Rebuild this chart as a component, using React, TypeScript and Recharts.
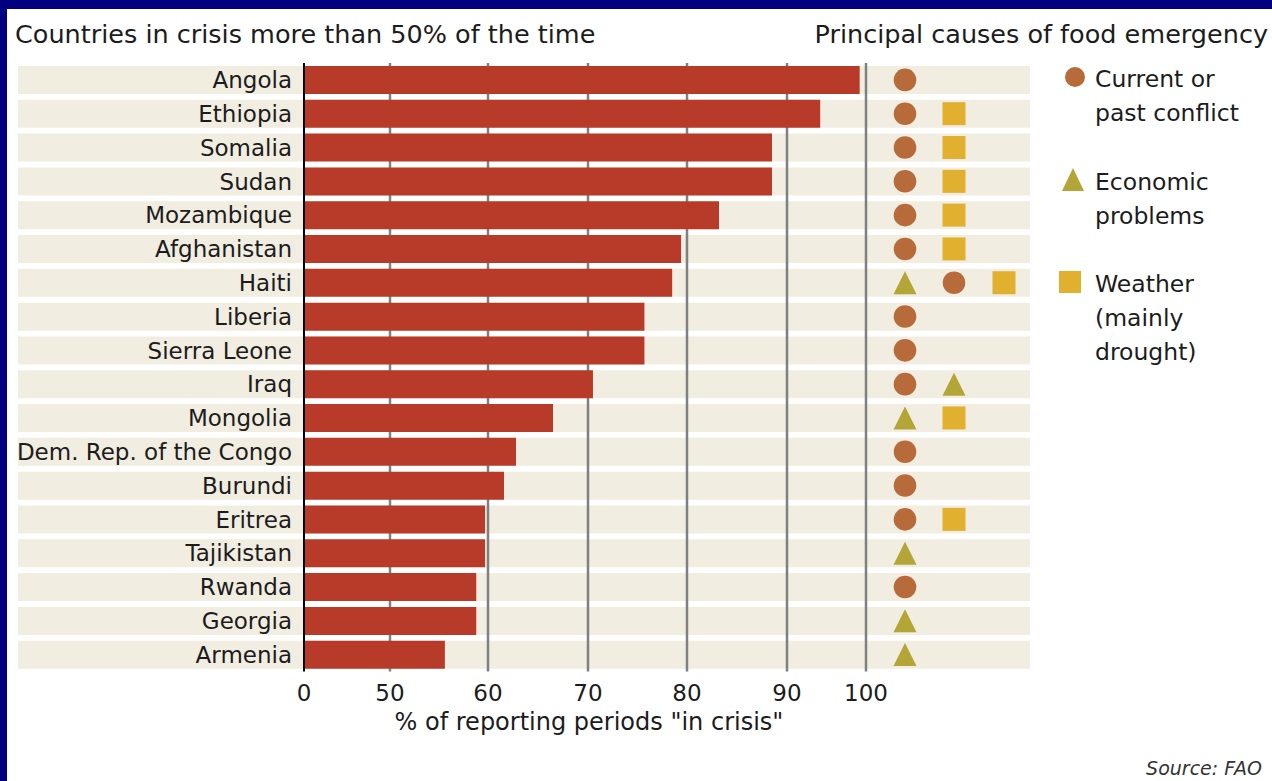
import React from 'react'
import {
  ComposedChart, Bar, Scatter, XAxis, YAxis, ReferenceLine, LabelList, Label,
} from 'recharts'

// rows, top to bottom
const countries = [
  'Angola', 'Ethiopia', 'Somalia', 'Sudan', 'Mozambique', 'Afghanistan', 'Haiti',
  'Liberia', 'Sierra Leone', 'Iraq', 'Mongolia', 'Dem. Rep. of the Congo', 'Burundi',
  'Eritrea', 'Tajikistan', 'Rwanda', 'Georgia', 'Armenia',
]
// % of reporting periods "in crisis"
const crisisPct = [
  99.2, 94.2, 88.5, 88.5, 83.2, 79.4, 78.5, 75.7, 75.7, 70.5, 66.5, 62.8, 61.6,
  59.7, 59.7, 58.8, 58.8, 55.6,
]
// C = current or past conflict, E = economic problems, W = weather
// (in the order the marks appear in each row)
const causes = [
  ['C'], ['C', 'W'], ['C', 'W'], ['C', 'W'], ['C', 'W'], ['C', 'W'], ['E', 'C', 'W'],
  ['C'], ['C'], ['C', 'E'], ['E', 'W'], ['C'], ['C'], ['C', 'W'], ['E'], ['C'], ['E'], ['E'],
]
const tickValues = [0, 50, 60, 70, 80, 90, 100]

// broken axis: 0-50 is squeezed, each tick value maps to an axis unit (1 unit = 1px)
const AXIS_KNOTS = [0, 86, 184, 284, 383, 483, 562]
const X_DOMAIN = [-286, 726]
const CAUSE_COLUMNS = [601, 650, 700]

const FONT = '"DejaVu Sans", Verdana, sans-serif'
const TEXT = '#1c1c1c'
const BAR = '#b83a28'
const BAND = '#f1ede1'
const GRID = '#808080'
const CAUSE_COLORS: Record<string, string> = { C: '#b76b3a', E: '#b3a637', W: '#e0b02e' }

const toAxis = (v: number) => {
  for (let i = 0; i < tickValues.length - 1; i++) {
    const a = tickValues[i], b = tickValues[i + 1]
    if (v <= b || i === tickValues.length - 2) {
      const k0 = AXIS_KNOTS[i], k1 = AXIS_KNOTS[i + 1]
      return k0 + ((v - a) / (b - a)) * (k1 - k0)
    }
  }
  return 0
}
const fromAxis = (t: number) => {
  const i = AXIS_KNOTS.indexOf(t)
  return i >= 0 ? String(tickValues[i]) : ''
}

const rows = countries.map((name, i) => ({ name, pct: crisisPct[i], causes: causes[i] }))
const causeSlots = CAUSE_COLUMNS.map((col, k) =>
  rows.filter(r => r.causes[k]).map(r => ({ name: r.name, col, cause: r.causes[k] }))
)

const CauseMark = (props: any) => {
  const { cx, cy, payload } = props
  if (cx == null || cy == null) return null
  const kind = payload.cause
  const fill = CAUSE_COLORS[kind]
  if (kind === 'C') return <circle cx={cx} cy={cy} r={11.3} fill={fill} />
  if (kind === 'E') {
    return <polygon points={`${cx},${cy - 11.5} ${cx + 11.5},${cy + 11.5} ${cx - 11.5},${cy + 11.5}`} fill={fill} />
  }
  return <rect x={cx - 11.5} y={cy - 11.5} width={23} height={23} fill={fill} />
}

const legendItems = [
  { kind: 'C', lines: ['Current or', 'past conflict'], y: 77 },
  { kind: 'E', lines: ['Economic', 'problems'], y: 180 },
  { kind: 'W', lines: ['Weather', '(mainly', 'drought)'], y: 282 },
]

export default function App() {
  return (
    <div style={{ position: 'relative', width: 1272, height: 781, background: '#000080', overflow: 'hidden' }}>
      <style>{'body{margin:0}'}</style>
      <div style={{ position: 'absolute', left: 7, top: 9, right: 0, bottom: 0, background: '#fff' }} />
      <div style={{ position: 'absolute', left: 0, top: 0 }}>
        <ComposedChart
          width={1272}
          height={781}
          data={rows}
          layout="vertical"
          barSize={28}
          barGap={-28}
          margin={{ top: 63, right: 242, bottom: 49.5, left: 18 }}
        >
          <XAxis
            type="number"
            domain={X_DOMAIN}
            allowDataOverflow
            ticks={AXIS_KNOTS}
            tickFormatter={fromAxis}
            axisLine={false}
            tickLine={false}
            tickSize={0}
            tickMargin={13.5}
            height={60}
            tick={{ fill: TEXT, fontSize: 23, fontFamily: FONT }}
            interval={0}
          >
            <Label
              content={(p: any) => {
                const vb = p.viewBox || { x: 18, y: 671.5 }
                return (
                  <text x={vb.x - X_DOMAIN[0] + AXIS_KNOTS[AXIS_KNOTS.length - 1] / 2 + 4} y={vb.y + 58.5}
                    textAnchor="middle" fill={TEXT} fontSize={24} fontFamily={FONT}>
                    % of reporting periods "in crisis"
                  </text>
                )
              }}
            />
          </XAxis>
          <YAxis type="category" dataKey="name" hide allowDuplicatedCategory={false} />
          <Bar dataKey={() => X_DOMAIN} fill={BAND} isAnimationActive={false} zIndex={100} />
          {AXIS_KNOTS.slice(1).map(t => (
            <ReferenceLine key={t} x={t} stroke={GRID} strokeWidth={2.5} zIndex={200} />
          ))}
          <Bar dataKey={(d: any) => toAxis(d.pct)} fill={BAR} isAnimationActive={false} zIndex={300}>
            <LabelList dataKey="name" position="left" offset={12} fill={TEXT} fontSize={23} fontFamily={FONT} />
          </Bar>
          <ReferenceLine x={0} stroke="#000" strokeWidth={2} />
          {causeSlots.map((slot, k) => (
            <Scatter key={k} data={slot} dataKey="col" shape={CauseMark} isAnimationActive={false} />
          ))}
        </ComposedChart>
      </div>
      <svg width={1272} height={781} style={{ position: 'absolute', left: 0, top: 0, pointerEvents: 'none' }}>
        <g fontFamily={FONT} fill={TEXT}>
          <text x={15} y={43} fontSize={25.5}>Countries in crisis more than 50% of the time</text>
          <text x={1268} y={43} fontSize={25.5} textAnchor="end">Principal causes of food emergency</text>
          {legendItems.map(item => (
            <g key={item.kind}>
              {item.kind === 'C' && <circle cx={1075} cy={item.y} r={10} fill={CAUSE_COLORS.C} />}
              {item.kind === 'E' && (
                <polygon points={`1073,${item.y - 12} 1084,${item.y + 11} 1062,${item.y + 11}`} fill={CAUSE_COLORS.E} />
              )}
              {item.kind === 'W' && <rect x={1059} y={item.y - 11} width={22} height={22} fill={CAUSE_COLORS.W} />}
              {item.lines.map((line, j) => (
                <text key={j} x={1095} y={item.y + 9.5 + j * 34} fontSize={23.5}>{line}</text>
              ))}
            </g>
          ))}
          <text x={1262} y={775} fontSize={19} fontStyle="italic" textAnchor="end" fill="#333">Source: FAO</text>
        </g>
      </svg>
    </div>
  )
}
